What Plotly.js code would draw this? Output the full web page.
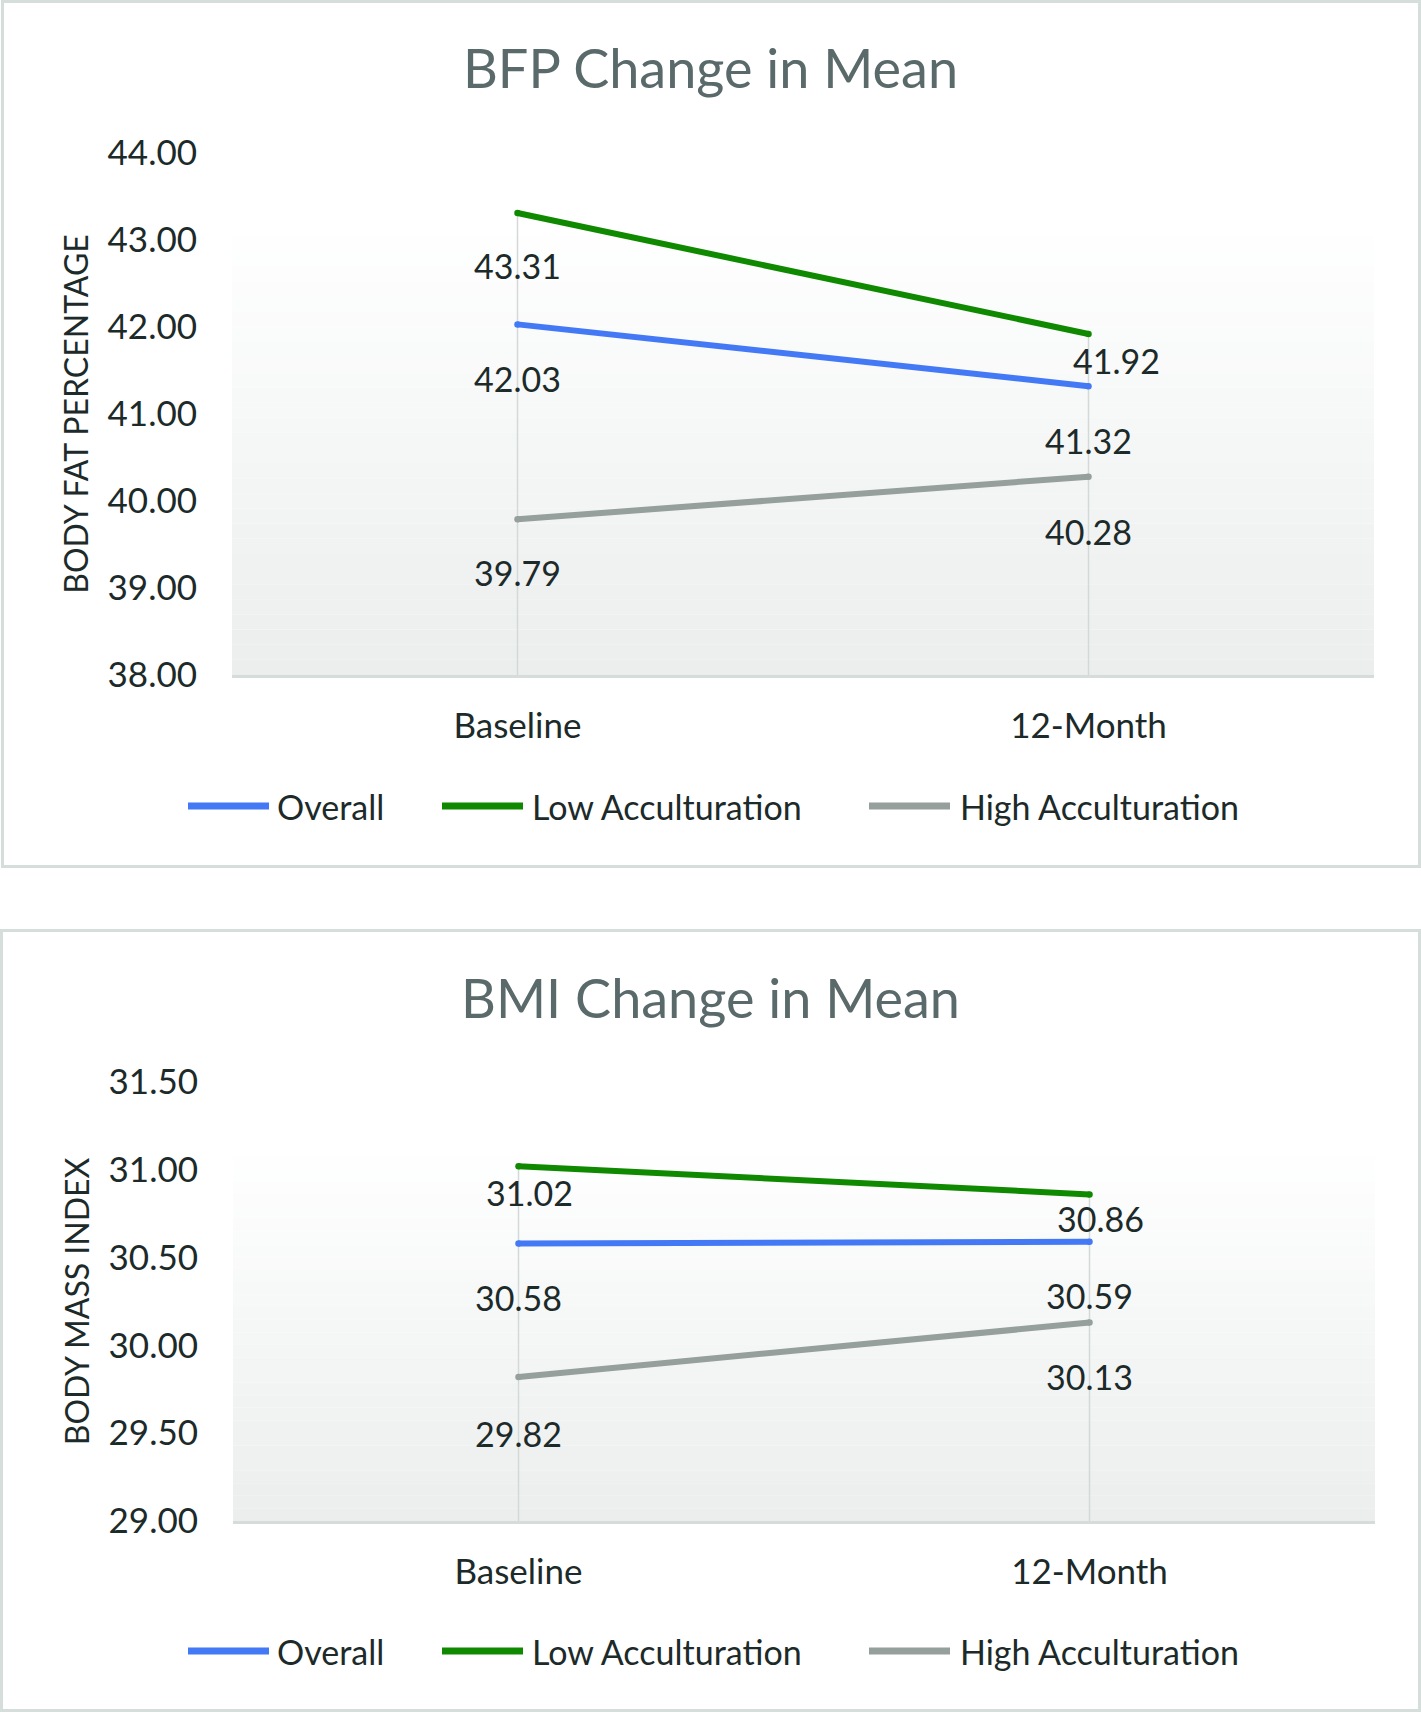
<!DOCTYPE html>
<html>
<head>
<meta charset="utf-8">
<script src="https://cdn.plot.ly/plotly-3.0.1.min.js"></script>
<style>
  html, body { margin:0; padding:0; background:#ffffff; }
  body { width:1421px; height:1712px; position:relative; overflow:hidden; }
  .plot { position:absolute; left:0; }
  .frame { position:absolute; box-sizing:border-box; border:3px solid #d6dedb; pointer-events:none; }
</style>
</head>
<body>
<div id="bfp" class="plot" style="top:0px;"></div>
<div id="bmi" class="plot" style="top:929px;"></div>
<div class="frame" style="left:1px; top:0px; width:1420px; height:868px;"></div>
<div class="frame" style="left:0px; top:929px; width:1421px; height:783px;"></div>
<script>
// ---------------- data ----------------
const categories = ['Baseline', '12-Month'];
const seriesNames = ['Overall', 'Low Acculturation', 'High Acculturation'];

const bfpOverall = [42.03, 41.32];
const bfpLow = [43.31, 41.92];
const bfpHigh = [39.79, 40.28];

const bmiOverall = [30.58, 30.59];
const bmiLow = [31.02, 30.86];
const bmiHigh = [29.82, 30.13];

const bfpTicks = [38, 39, 40, 41, 42, 43, 44];
const bmiTicks = [29.0, 29.5, 30.0, 30.5, 31.0, 31.5];

// ---------------- styles ----------------
const colors = ['#4479f5', '#0f8a00', '#959f9b'];
const FONT = 'Lato, "Open Sans", sans-serif';
const textColor = '#1c2a2a';
const titleColor = '#5a6969';
const LABEL_SIZE = 34;

// label offsets (px) per series per category  [xshift, yshift]
const bfpLabelShift = [
  [[0, -54], [0, -54]],
  [[0, -52], [28, -27]],
  [[0, -53], [0, -55]]
];
const bmiLabelShift = [
  [[0, -54], [0, -54]],
  [[11, -26], [11, -24]],
  [[0, -56], [0, -54]]
];

function buildChart(divId, cfg) {
  const W = 1421, H = cfg.height;
  const m = cfg.margin;
  const pw = W - m.l - m.r, ph = H - m.t - m.b;
  const px2x = px => (px - m.l) / pw;
  const py2y = py => (H - m.b - py) / ph;

  const data = [];
  // drop lines at each category, from axis floor to the highest value
  categories.forEach((c, i) => {
    const top = Math.max(...cfg.series.map(s => s[i]));
    data.push({
      type: 'scatter', mode: 'lines', x: [c, c], y: [cfg.range[0], top],
      line: {color: '#d2d9d6', width: 1.5}, hoverinfo: 'skip', showlegend: false
    });
  });
  cfg.series.forEach((s, k) => {
    data.push({
      type: 'scatter', mode: 'lines+markers', name: seriesNames[k],
      x: categories, y: s,
      line: {color: colors[k], width: 6},
      marker: {color: colors[k], size: 6.5},
      showlegend: false
    });
  });

  const annotations = [];
  cfg.series.forEach((s, k) => {
    s.forEach((v, i) => {
      annotations.push({
        x: categories[i], y: v, xref: 'x', yref: 'y', showarrow: false,
        text: v.toFixed(2), xshift: cfg.shifts[k][i][0], yshift: cfg.shifts[k][i][1],
        font: {family: FONT, size: LABEL_SIZE, color: textColor}
      });
    });
  });

  const shapes = [];
  // background gradient bands in plot area
  const N = 30, gTop = cfg.gradTop;
  const c0 = [255, 255, 255], c1 = [235, 238, 237];
  for (let j = 0; j < N; j++) {
    const t = (j + 0.5) / N;
    const col = c0.map((a, idx) => Math.round(a + (c1[idx] - a) * t));
    shapes.push({
      type: 'rect', xref: 'paper', yref: 'paper', layer: 'below',
      x0: 0, x1: 1, y0: gTop * (1 - (j + 1) / N), y1: gTop * (1 - j / N),
      fillcolor: 'rgb(' + col.join(',') + ')', line: {width: 0}
    });
  }

  // custom legend
  const legLineX = [188, 442, 869];
  const legTextX = [275, 530, 958];
  const legLen = 81;
  const ly = py2y(cfg.legendY);
  seriesNames.forEach((n, k) => {
    shapes.push({
      type: 'line', xref: 'paper', yref: 'paper',
      x0: px2x(legLineX[k]), x1: px2x(legLineX[k] + legLen), y0: ly, y1: ly,
      line: {color: colors[k], width: 7}
    });
    annotations.push({
      xref: 'paper', yref: 'paper', x: px2x(legTextX[k]), y: ly,
      xanchor: 'left', yanchor: 'middle', showarrow: false, text: n,
      font: {family: FONT, size: LABEL_SIZE, color: textColor}
    });
  });

  const layout = {
    width: W, height: H,
    margin: m,
    paper_bgcolor: 'rgba(0,0,0,0)', plot_bgcolor: '#ffffff',
    font: {family: FONT, color: textColor},
    title: {
      text: cfg.title, xref: 'container', yref: 'container',
      x: 0.5, xanchor: 'center', y: 1 - cfg.titleY / H, yanchor: 'middle',
      font: {family: FONT, size: 54, color: titleColor}
    },
    xaxis: {
      type: 'category', range: [-0.5, 1.5],
      showgrid: false, zeroline: false,
      showline: true, linecolor: '#d6dcda', linewidth: 2.5,
      ticks: '', ticklabelstandoff: 18,
      tickfont: {family: FONT, size: 35, color: textColor},
      fixedrange: true
    },
    yaxis: {
      range: cfg.range, tickvals: cfg.ticks,
      ticktext: cfg.ticks.map(v => v.toFixed(2)),
      showgrid: false, zeroline: false, showline: false,
      ticks: '', ticklabelstandoff: 34,
      tickfont: {family: FONT, size: 35, color: textColor},
      title: {text: cfg.yTitle, standoff: 9, font: {family: FONT, size: 32, color: textColor}},
      fixedrange: true
    },
    shapes: shapes,
    annotations: annotations,
    showlegend: false
  };
  Plotly.newPlot(divId, data, layout, {staticPlot: true});
}

buildChart('bfp', {
  height: 868, margin: {l: 232, r: 47, t: 153, b: 193},
  range: [38, 44], ticks: bfpTicks,
  series: [bfpOverall, bfpLow, bfpHigh], shifts: bfpLabelShift,
  title: 'BFP Change in Mean', titleY: 69, yTitle: 'BODY FAT PERCENTAGE',
  legendY: 806, gradTop: 0.87
});

buildChart('bmi', {
  height: 783, margin: {l: 233, r: 46, t: 153, b: 191},
  range: [29, 31.5], ticks: bmiTicks,
  series: [bmiOverall, bmiLow, bmiHigh], shifts: bmiLabelShift,
  title: 'BMI Change in Mean', titleY: 70, yTitle: 'BODY MASS INDEX',
  legendY: 722, gradTop: 0.86
});
</script>
</body>
</html>
